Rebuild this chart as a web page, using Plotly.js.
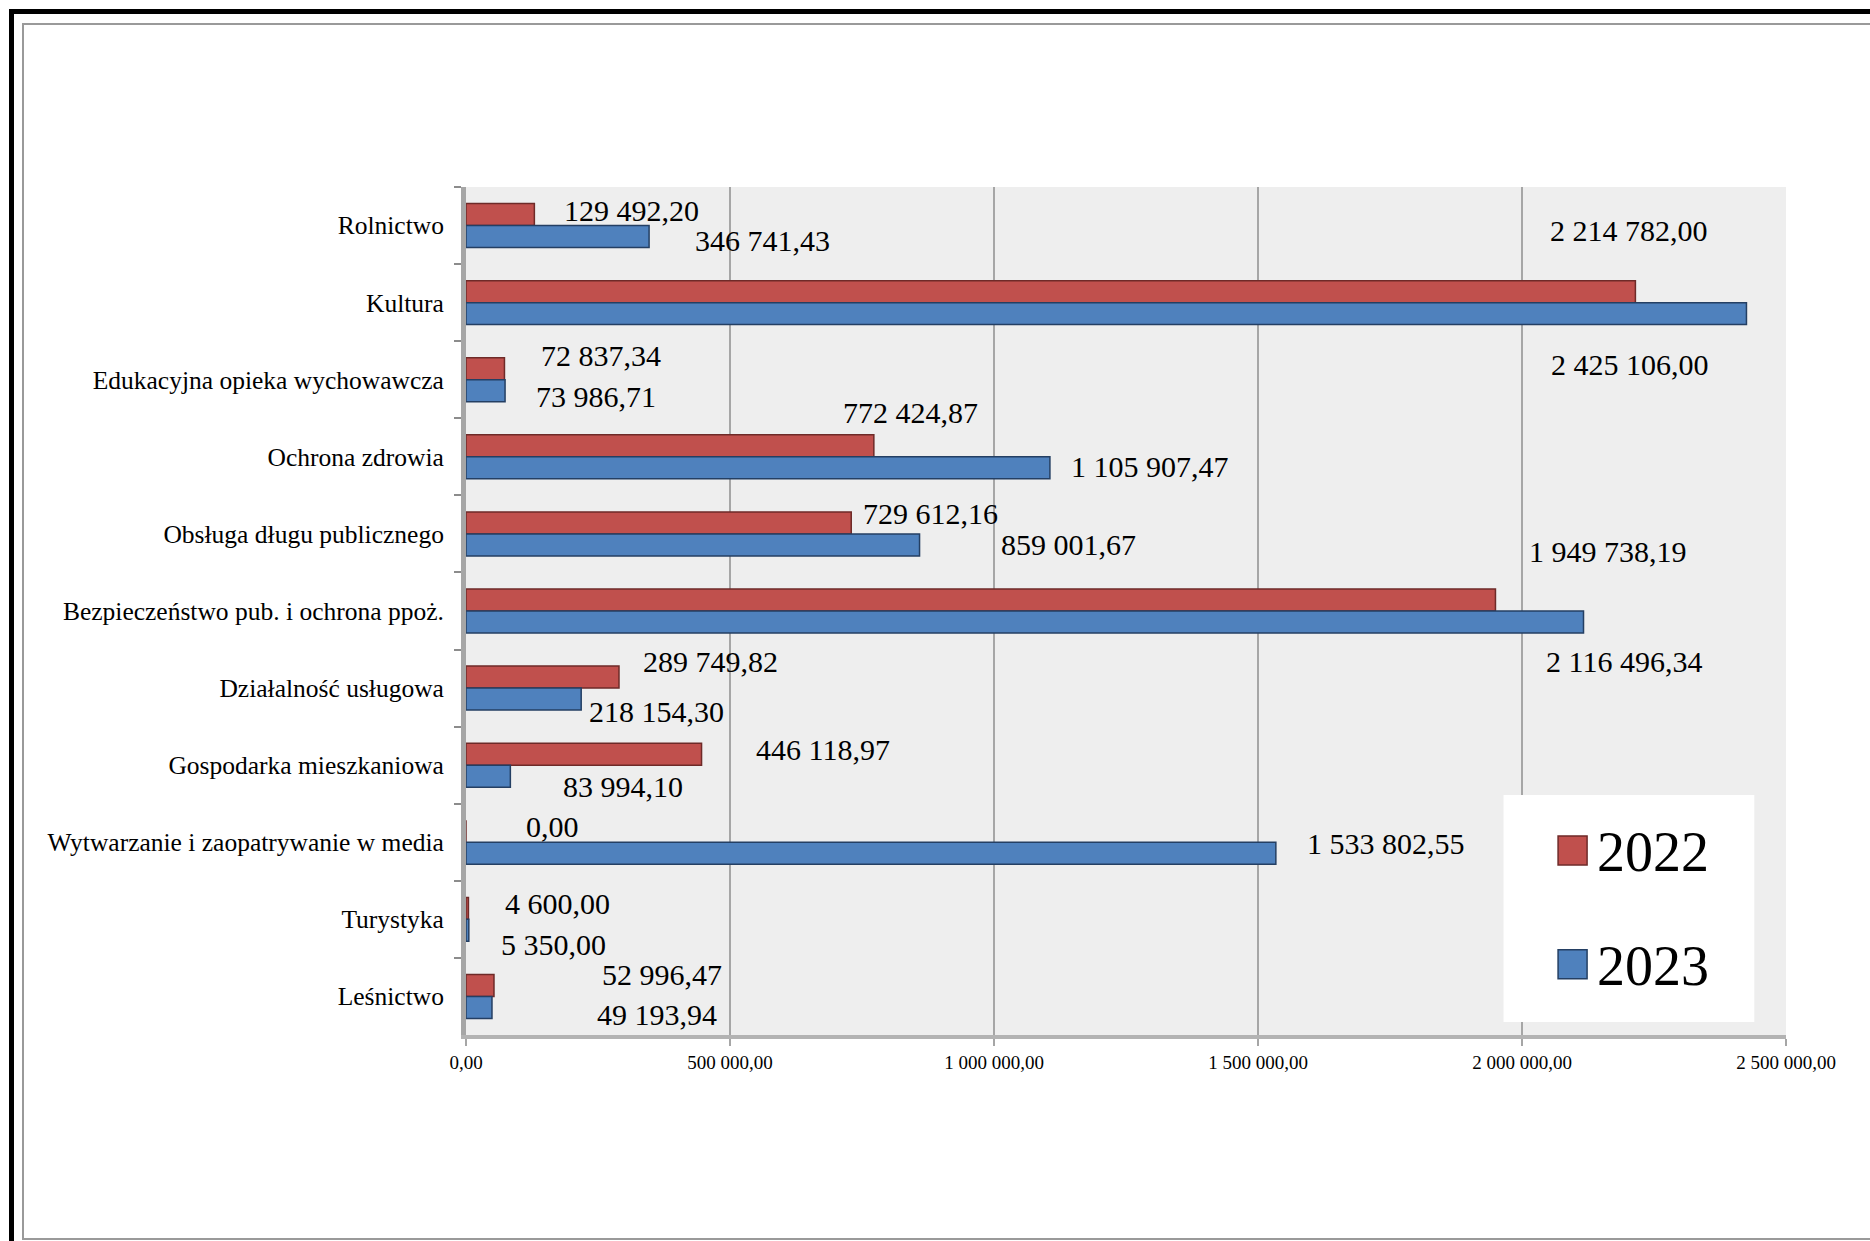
<!DOCTYPE html>
<html>
<head>
<meta charset="utf-8">
<script src="https://cdn.plot.ly/plotly-3.0.1.min.js"></script>
<style>
  html, body { margin: 0; padding: 0; background: #ffffff; }
  #wrap { position: relative; width: 1870px; height: 1241px; overflow: hidden; }
  #outer { position: absolute; left: 9px; top: 9px; width: 1900px; height: 1300px;
           border-left: 5px solid #000; border-top: 5px solid #000; }
  #inner { position: absolute; left: 22px; top: 23px; width: 1900px; height: 1213px;
           border-left: 2px solid #9a9a9a; border-top: 2px solid #9a9a9a; border-bottom: 2px solid #9a9a9a; }
  #chart { position: absolute; left: 0; top: 0; width: 1870px; height: 1241px; }
</style>
</head>
<body>
<div id="wrap">
  <div id="outer"></div>
  <div id="inner"></div>
  <div id="chart"></div>
</div>
<script>
const categories = [
  'Rolnictwo',
  'Kultura',
  'Edukacyjna opieka wychowawcza',
  'Ochrona zdrowia',
  'Obsługa długu publicznego',
  'Bezpieczeństwo pub. i ochrona ppoż.',
  'Działalność usługowa',
  'Gospodarka mieszkaniowa',
  'Wytwarzanie i zaopatrywanie w media',
  'Turystyka',
  'Leśnictwo'
];
const values2022 = [129492.20, 2214782.00, 72837.34, 772424.87, 729612.16, 1949738.19, 289749.82, 446118.97, 0.00, 4600.00, 52996.47];
const values2023 = [346741.43, 2425106.00, 73986.71, 1105907.47, 859001.67, 2116496.34, 218154.30, 83994.10, 1533802.55, 5350.00, 49193.94];
const seriesNames = ['2022', '2023'];
const tickValues = [0, 500000, 1000000, 1500000, 2000000, 2500000];

// label placement (layout only): x in axis units, y offset in category units
const label2022X = [313000, 2203000, 256000, 841000, 879000, 2163000, 464000, 676000, 163000, 174000, 371000];
const label2022Dy = [-0.19, -0.94, -0.32, -0.57, -0.26, -0.77, -0.35, -0.20, -0.21, -0.20, -0.29];
const label2023X = [561000, 2205000, 246000, 1295000, 1142000, 2193000, 360000, 297000, 1742000, 165000, 362000];
const label2023Dy = [0.20, 0.80, 0.22, 0.12, 0.14, 0.66, 0.30, 0.28, 0.02, 0.33, 0.24];

function fmt(v) {
  const parts = v.toFixed(2).split('.');
  const intPart = parts[0].replace(/\B(?=(\d{3})+(?!\d))/g, ' ');
  return intPart + ',' + parts[1];
}

const serif = 'Liberation Serif, Times New Roman, serif';

const traces = [
  {
    type: 'bar', orientation: 'h', name: seriesNames[0], legendgroup: 'a',
    y: categories, x: values2022,
    marker: { color: '#C0504D', line: { color: '#6e2a28', width: 1.5 } },
    hoverinfo: 'x+y'
  },
  {
    type: 'bar', orientation: 'h', name: seriesNames[1], legendgroup: 'b',
    y: categories, x: values2023,
    marker: { color: '#4F81BD', line: { color: '#243f63', width: 1.5 } },
    hoverinfo: 'x+y'
  }
];

const annotations = [];
categories.forEach((c, i) => {
  annotations.push({
    xref: 'x', yref: 'y', x: label2022X[i], y: i + label2022Dy[i],
    text: fmt(values2022[i]), showarrow: false, xanchor: 'center', yanchor: 'middle',
    font: { family: serif, size: 30, color: '#000' }
  });
  annotations.push({
    xref: 'x', yref: 'y', x: label2023X[i], y: i + label2023Dy[i],
    text: fmt(values2023[i]), showarrow: false, xanchor: 'center', yanchor: 'middle',
    font: { family: serif, size: 30, color: '#000' }
  });
});

const layout = {
  width: 1870, height: 1241,
  margin: { l: 466, r: 84, t: 187, b: 206 },
  paper_bgcolor: 'rgba(0,0,0,0)',
  plot_bgcolor: '#eeeeee',
  barmode: 'group',
  bargap: 0.43,
  bargroupgap: 0,
  font: { family: serif, color: '#000' },
  showlegend: true,
  legend: {
    x: 0.819, xanchor: 'left', y: 0.270, yanchor: 'top',
    bgcolor: 'rgba(0,0,0,0)', borderwidth: 0,
    font: { family: serif, size: 56, color: '#000' },
    traceorder: 'grouped', tracegroupgap: 38, itemwidth: 40
  },
  xaxis: {
    range: [0, 2500000],
    tickvals: tickValues,
    ticktext: tickValues.map(fmt),
    tickfont: { family: serif, size: 19, color: '#000' },
    showgrid: true, gridcolor: '#a6a6a6', gridwidth: 2,
    zeroline: false,
    showline: true, linecolor: '#b3b3b3', linewidth: 4,
    ticks: 'outside', ticklen: 7, tickcolor: '#a6a6a6', tickwidth: 2,
    fixedrange: true
  },
  yaxis: {
    type: 'category',
    autorange: 'reversed',
    tickfont: { family: serif, size: 25.5, color: '#000' },
    showgrid: false, zeroline: false,
    showline: true, linecolor: '#a6a6a6', linewidth: 5,
    ticks: 'outside', ticklen: 7, tickcolor: '#8c8c8c', tickwidth: 2,
    tickson: 'boundaries',
    ticklabelstandoff: 12,
    fixedrange: true
  },
  shapes: [
    { type: 'rect', xref: 'paper', yref: 'paper', layer: 'above',
      x0: 0.786, x1: 0.976, y0: 0.0153, y1: 0.283,
      fillcolor: '#ffffff', line: { width: 0 } }
  ],
  annotations: annotations
};

Plotly.newPlot('chart', traces, layout, { displayModeBar: false, staticPlot: true }).then(gd => {
  gd.querySelectorAll('.legendpoints path').forEach(p => {
    p.removeAttribute('transform');
    p.setAttribute('d', 'M11,-13H40V16H11Z');
    p.style.strokeWidth = '1.5px';
  });
});
</script>
</body>
</html>
